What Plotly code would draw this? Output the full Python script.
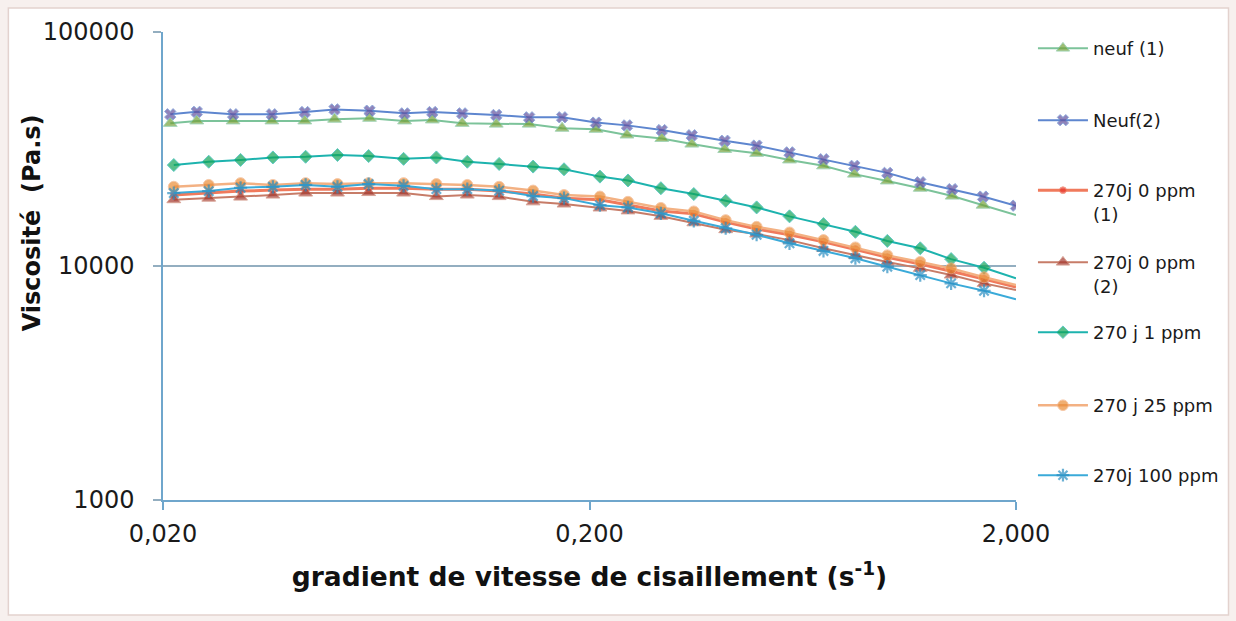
import plotly.graph_objects as go

# Shear rate (s-1) for the new-oil runs and for the 270-day aged runs
shear_new = [0.0208, 0.0240, 0.0292, 0.0360, 0.0430, 0.0505, 0.0610, 0.0737, 0.0856,
             0.1006, 0.1209, 0.1444, 0.1725, 0.2071, 0.2448, 0.2955, 0.3474, 0.4150,
             0.4930, 0.5888, 0.7074, 0.8360, 0.9985, 1.1926, 1.4170, 1.6740, 2.0000]
shear_aged = [0.0212, 0.0256, 0.0304, 0.0362, 0.0432, 0.0513, 0.0607, 0.0733, 0.0875,
              0.1034, 0.1228, 0.1475, 0.1743, 0.2116, 0.2462, 0.2940, 0.3512, 0.4172,
              0.4930, 0.5888, 0.7074, 0.8404, 0.9985, 1.1926, 1.4090, 1.6830, 2.0000]

# Viscosity (Pa.s)
neuf_1 = [40700, 41700, 41700, 41700, 41700, 42400, 42800, 41700, 42100,
          40700, 40400, 40400, 38800, 38400, 36300, 35100, 33200, 31500,
          30300, 28400, 26800, 24700, 23100, 21500, 19900, 18200, 16500]
neuf_2 = [44500, 45600, 44500, 44500, 45500, 46700, 46100, 44900, 45500,
          44900, 44200, 43200, 43200, 41000, 39900, 38100, 36200, 34300,
          32700, 30600, 28600, 26800, 25000, 22800, 21300, 19800, 18100]
j270_0ppm_1 = [20100, 20500, 20900, 21100, 21300, 21300, 21500, 21500, 21300,
               21300, 20900, 20300, 19500, 19200, 18200, 17200, 16700, 15400,
               14400, 13600, 12700, 11800, 10900, 10200, 9520, 8800, 8130]
j270_0ppm_2 = [19200, 19500, 19700, 20100, 20500, 20500, 20600, 20500, 19800,
               20100, 19800, 18800, 18400, 17700, 17200, 16300, 15300, 14300,
               13700, 12900, 11900, 11100, 10400, 9770, 9150, 8430, 7900]
j270_1ppm = [27000, 27900, 28400, 29100, 29300, 29800, 29500, 28700, 29100,
             27900, 27300, 26600, 25900, 24100, 23200, 21500, 20300, 19000,
             17800, 16300, 15100, 14000, 12800, 11900, 10700, 9830, 8860]
j270_25ppm = [21800, 22200, 22600, 22200, 22600, 22400, 22600, 22600, 22400,
              22200, 21800, 21000, 20100, 19800, 18800, 17700, 17100, 15700,
              14700, 13900, 12900, 12000, 11100, 10400, 9770, 8950, 8290]
j270_100ppm = [20500, 20900, 21600, 21800, 22200, 21800, 22400, 22000, 21300,
               21300, 21000, 19900, 19500, 18200, 17800, 16800, 15600, 14500,
               13600, 12500, 11600, 10800, 9930, 9150, 8430, 7840, 7210]

x_tickvals = [0.02, 0.2, 2.0]
x_ticktext = ["0,020", "0,200", "2,000"]
y_tickvals = [1000, 10000, 100000]
y_ticktext = ["1000", "10000", "100000"]

FONT = "DejaVu Sans, Verdana, sans-serif"
AXIS_BLUE = "#6FA6CC"
GRID = "#93AEC0"

# name, x, y, line colour, line width, marker colour, symbol, size, marker on last point, legend top (px)
series = [
    ("neuf (1)", shear_new, neuf_1, "#7CC39A", 2, "#76A23A", "triangle-up", 12, False, 30),
    ("Neuf(2)", shear_new, neuf_2, "#5E86CF", 2, "#62519E", "x", 10, True, 102),
    ("270j 0 ppm<br>(1)", shear_aged, j270_0ppm_1, "#F07A5C", 3, "#E8342A", "circle", 7, False, 172),
    ("270j 0 ppm<br>(2)", shear_aged, j270_0ppm_2, "#C77C68", 2, "#A5382E", "triangle-up", 12, False, 244),
    ("270 j 1 ppm", shear_aged, j270_1ppm, "#1DB3AE", 2, "#13A558", "diamond", 10, False, 314),
    ("270 j 25 ppm", shear_aged, j270_25ppm, "#F3B183", 2.5, "#EA8C36", "circle", 11, False, 387),
    ("270j 100 ppm", shear_aged, j270_100ppm, "#3AAAD9", 2, "#2B8FC2", "asterisk-open", 11, False, 457),
]

PLOT_L, PLOT_R, PLOT_T, PLOT_B = 163, 1018, 32, 500
W, H = 1236, 621


def px_x(px):
    return (px - PLOT_L) / (PLOT_R - PLOT_L)


def px_y(py):
    return (PLOT_B - py) / (PLOT_B - PLOT_T)


fig = go.Figure()
layout_legends = {}
for i, (name, xs, ys, lc, lw, mc, sym, ms, last_marker, top_px) in enumerate(series):
    key = "legend" if i == 0 else f"legend{i + 1}"
    sizes = [ms] * (len(xs) - 1) + [ms if last_marker else 0]
    marker = dict(symbol=sym, size=sizes, color=mc)
    if sym.endswith("-open"):
        marker["line"] = dict(color=mc, width=2.2)
    fig.add_trace(go.Scatter(
        x=xs, y=ys, name=name, mode="lines+markers",
        line=dict(color=lc, width=lw), marker=marker,
        legend=key,
    ))
    layout_legends[key] = dict(
        x=px_x(1035), xanchor="left",
        y=px_y(top_px), yanchor="top",
        bgcolor="rgba(0,0,0,0)", borderwidth=0, valign="top",
        font=dict(family=FONT, size=18, color="#1A1A1A"),
        itemwidth=50,
    )

fig.update_layout(
    width=W, height=H,
    margin=dict(l=PLOT_L, r=W - PLOT_R, t=PLOT_T, b=H - PLOT_B),
    paper_bgcolor="#F7F0EE", plot_bgcolor="rgba(0,0,0,0)",
    font=dict(family=FONT, color="#1A1A1A"),
    showlegend=True,
    **layout_legends,
)

# white chart area with a thin frame
fig.add_shape(
    type="rect", xref="paper", yref="paper", layer="below",
    x0=px_x(8), x1=px_x(1231), y0=px_y(615), y1=px_y(8),
    line=dict(color="#E3D2CE", width=1.5), fillcolor="white",
)

# vertical axis title
fig.add_annotation(
    text="<b>Viscosité  (Pa.s)</b>", textangle=-90,
    xref="paper", yref="paper", x=px_x(32), y=px_y(223),
    xanchor="center", yanchor="middle", showarrow=False,
    font=dict(family=FONT, size=24, color="#111111"),
)

fig.update_xaxes(
    type="log", range=[-1.69897, 0.30103],
    tickvals=x_tickvals, ticktext=x_ticktext,
    showgrid=False, zeroline=False,
    showline=True, linecolor=AXIS_BLUE, linewidth=1.5,
    ticks="outside", ticklen=8, tickcolor=AXIS_BLUE, tickwidth=1.5,
    tickfont=dict(family=FONT, size=24, color="#1A1A1A"),
    ticklabelstandoff=3,
    title=dict(text="<b>gradient de vitesse de cisaillement (s<sup>-1</sup>)</b>",
               font=dict(family=FONT, size=26.5, color="#111111"), standoff=21),
)
fig.update_yaxes(
    type="log", range=[3, 5],
    tickvals=y_tickvals, ticktext=y_ticktext,
    showgrid=True, gridcolor=GRID, gridwidth=1.5, zeroline=False,
    showline=True, linecolor=AXIS_BLUE, linewidth=1.5,
    ticks="outside", ticklen=8, tickcolor=GRID, tickwidth=1.5,
    tickfont=dict(family=FONT, size=24, color="#1A1A1A"),
    ticklabelstandoff=14,
)

fig.write_html("out.html")
